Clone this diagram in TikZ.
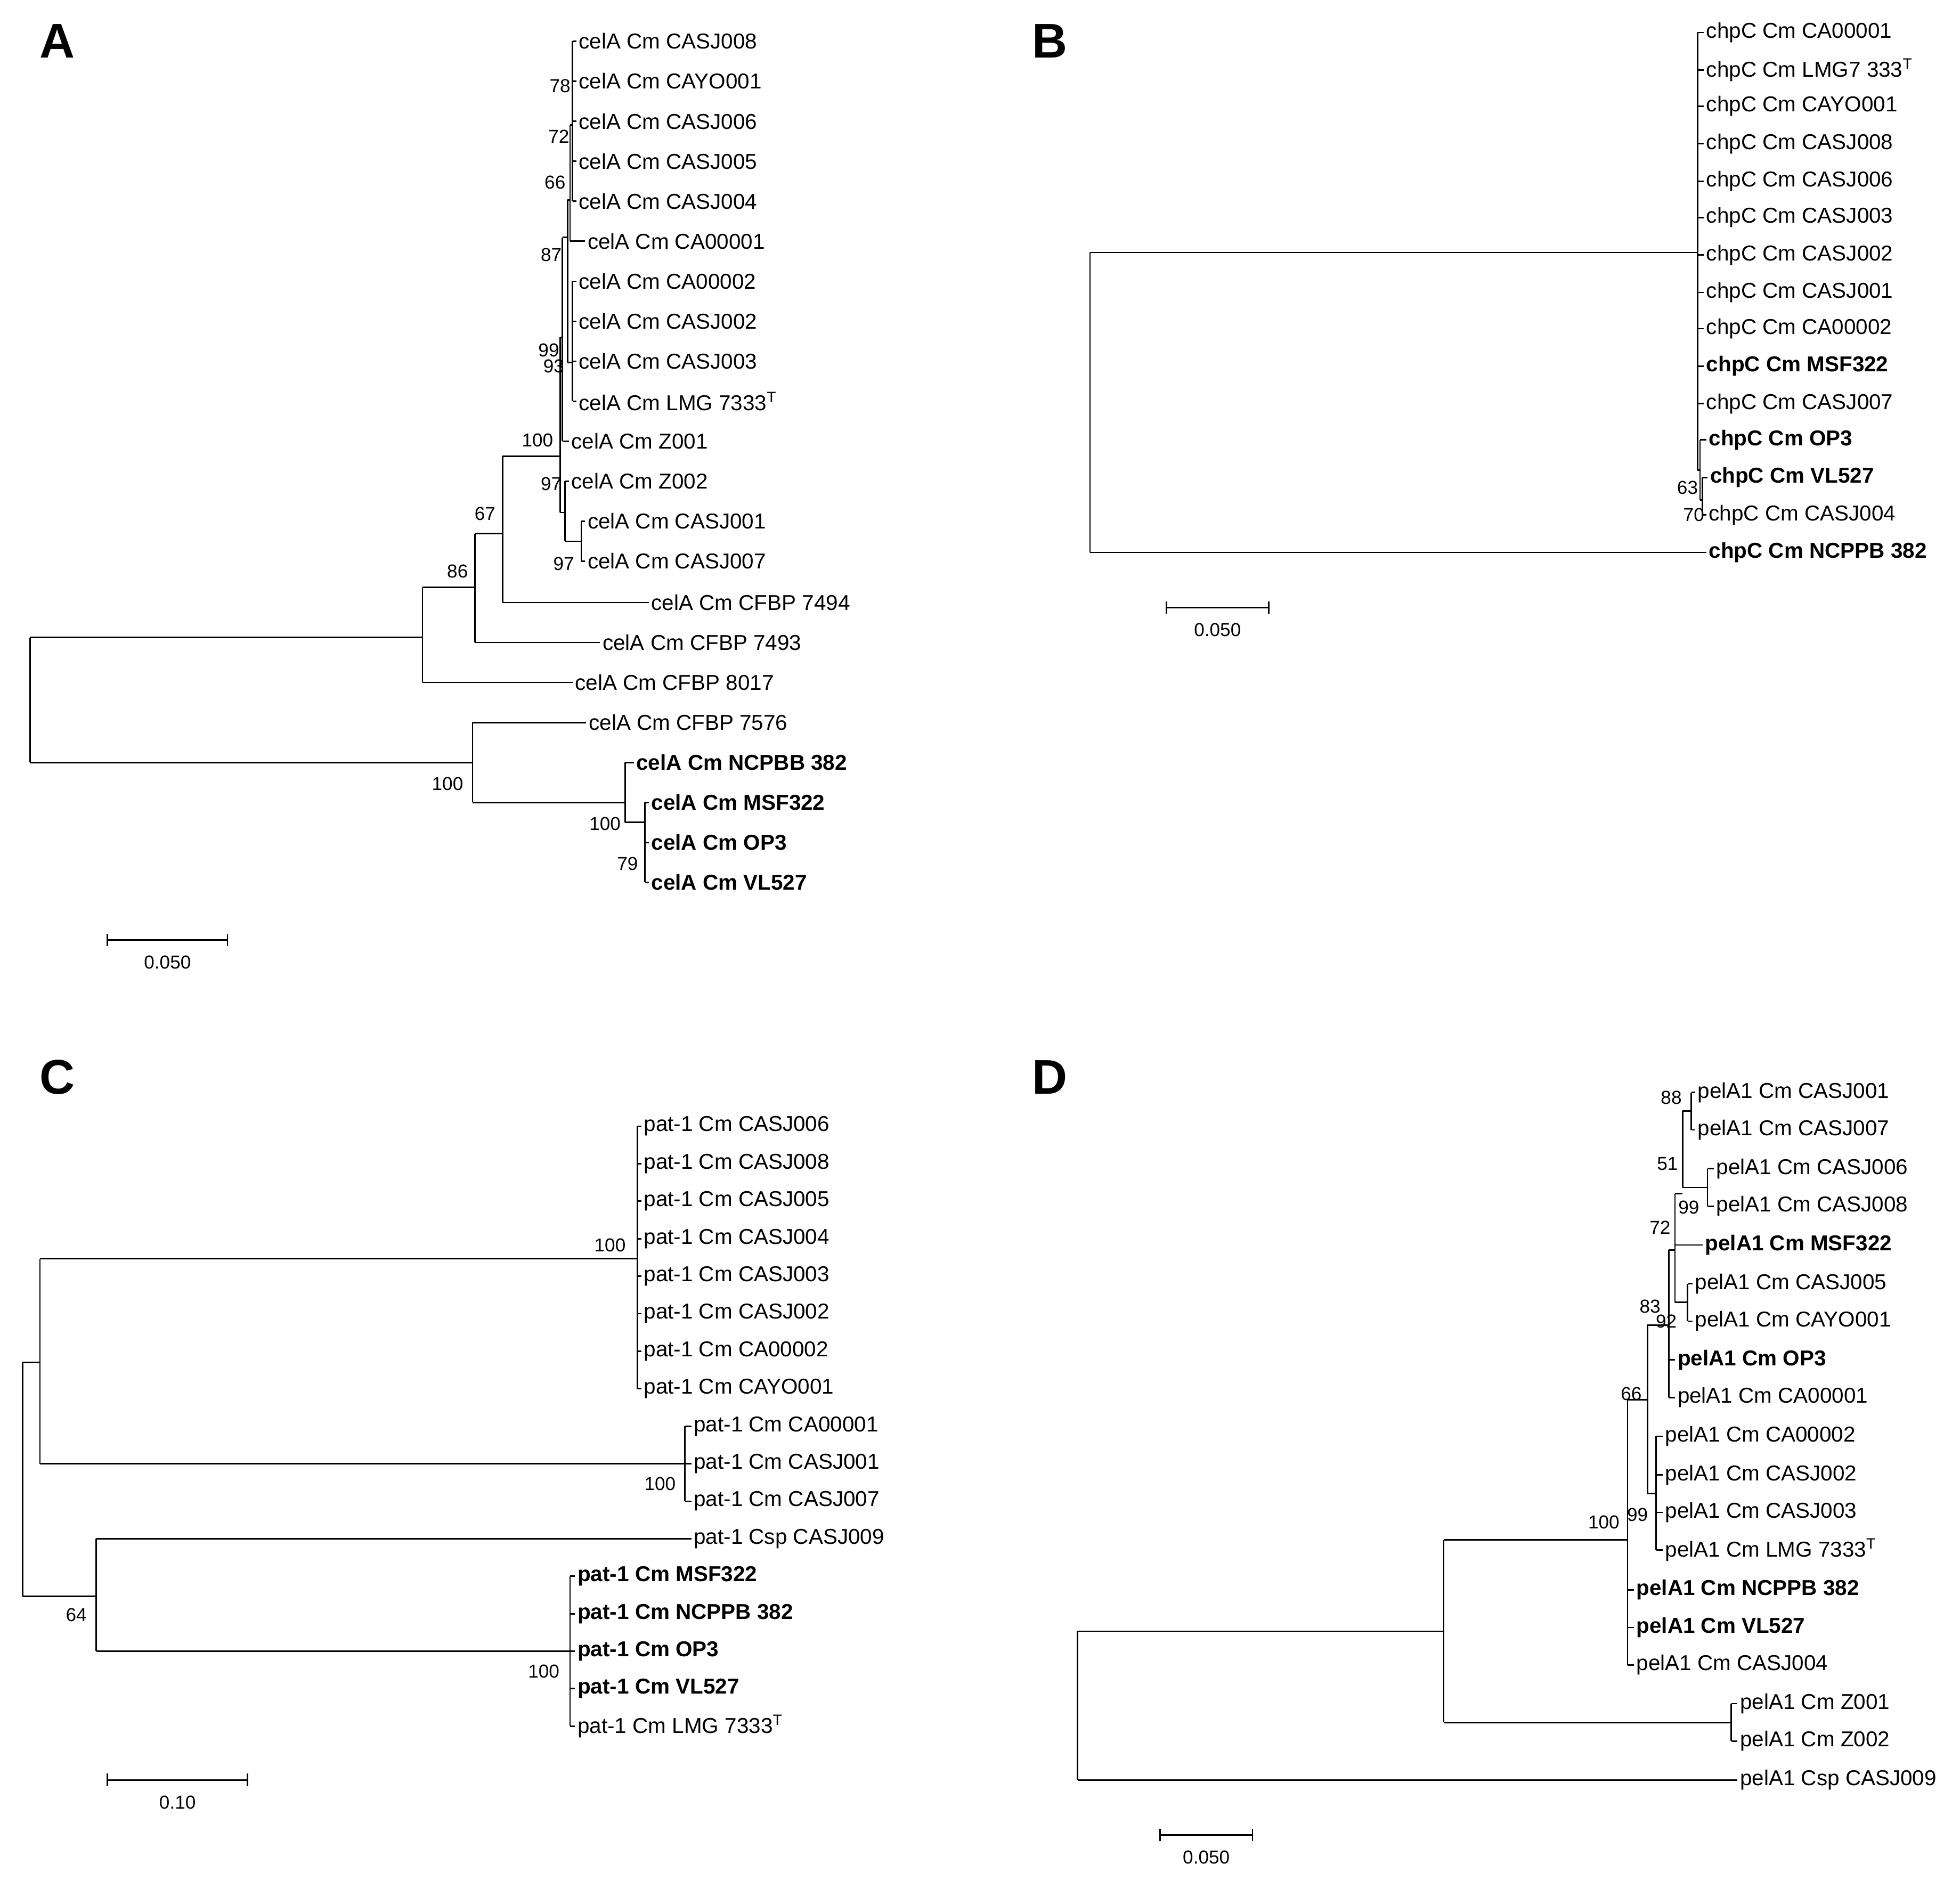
\documentclass[tikz,border=0pt]{standalone}
\usepackage{fontspec}
\setmainfont{Liberation Sans}
\tikzset{
  leaf/.style={anchor=west,inner sep=1pt,font=\fontsize{11.5}{13}\selectfont},
  bleaf/.style={leaf,font=\fontsize{11.5}{13}\selectfont\bfseries},
  bs/.style={inner sep=0pt,font=\fontsize{10}{12}\selectfont},
  panel/.style={font=\fontsize{26}{30}\selectfont\bfseries},
  tree/.style={line width=0.8pt}
}
\newcommand{\sbar}[4]{\draw[tree] (#1,#3) -- (#2,#3) (#1,#3-5) -- (#1,#3+5) (#2,#3-5) -- (#2,#3+5);
  \node[bs] at ({(#1+#2)/2},#3+18) {#4};}
\begin{document}
\begin{tikzpicture}[x=0.02346cm,y=-0.02346cm]
\useasboundingbox (0,0) rectangle (1568,1504);
% panel letters
\node[panel] (pA) at (46,33) {A};
\node[panel] (pB) at (840,33) {B};
\node[panel] (pC) at (46,862) {C};
\node[panel] (pD) at (840,862) {D};

% ---------- A
\draw[tree] (24,510) -- (24,610) (24,510) -- (338,510) (24,610) -- (378,610);
\draw[tree] (338,470) -- (338,546) (338,546) -- (458,546) node[leaf] {celA Cm CFBP 8017};
\draw[tree] (338,470) -- (380,470) (380,427) -- (380,514) (380,514) -- (480,514) node[leaf] {celA Cm CFBP 7493};
\draw[tree] (380,427) -- (402,427) (402,365) -- (402,482) (402,482) -- (519,482) node[leaf] {celA Cm CFBP 7494};
\draw[tree] (402,365) -- (448,365) (448,270) -- (448,410);
\draw[tree] (448,410) -- (452,410) (452,385) -- (452,433) (452,385) -- (455,385) node[leaf] {celA Cm Z002};
\draw[tree] (452,433) -- (465,433) (465,417) -- (465,449);
\foreach \y/\t in {417/celA Cm CASJ001,449/celA Cm CASJ007} \draw[tree] (465,\y) -- (468,\y) node[leaf] {\t};
\draw[tree] (448,270) -- (450,270) (450,190) -- (450,353) (450,353) -- (455,353) node[leaf] {celA Cm Z001};
\draw[tree] (450,190) -- (454,190) (454,160) -- (454,290) (454,290) -- (458,290) (458,225) -- (458,321);
\foreach \y/\t in {225/celA Cm CA00002,257/celA Cm CASJ002,289/celA Cm CASJ003,321/{celA Cm LMG 7333\textsuperscript{T}}} \draw[tree] (458,\y) -- (461,\y) node[leaf] {\t};
\draw[tree] (454,160) -- (456,160) (456,100) -- (456,193) (456,193) -- (468,193) node[leaf] {celA Cm CA00001};
\draw[tree] (456,100) -- (458,100) (458,33) -- (458,161);
\foreach \y/\t in {33/celA Cm CASJ008,65/celA Cm CAYO001,97/celA Cm CASJ006,129/celA Cm CASJ005,161/celA Cm CASJ004} \draw[tree] (458,\y) -- (461,\y) node[leaf] {\t};
\draw[tree] (378,578) -- (378,642) (378,578) -- (469,578) node[leaf] {celA Cm CFBP 7576};
\draw[tree] (378,642) -- (500,642) (500,610) -- (500,658) (500,610) -- (507,610) node[bleaf] {celA Cm NCPBB 382};
\draw[tree] (500,658) -- (516,658) (516,642) -- (516,706);
\foreach \y/\t in {642/celA Cm MSF322,674/celA Cm OP3,706/celA Cm VL527} \draw[tree] (516,\y) -- (519,\y) node[bleaf] {\t};
\foreach \x/\y/\t in {448/69/78,447/109/72,444/146/66,441/204/87,439/280/99,443/293/93,430/352/100,441/387/97,388/411/67,366/457/86,451/451/97,358/627/100,484/659/100,502/691/79}
  \node[bs] at (\x,\y) {\t};
\sbar{86}{182}{752}{0.050}

% ---------- B
\draw[tree] (872,202) -- (872,442) (872,202) -- (1358,202) (1358,26) -- (1358,376);
\draw[tree] (872,442) -- (1365,442) node[bleaf] {chpC Cm NCPPB 382};
\foreach \y/\t in {26/chpC Cm CA00001,56/{chpC Cm LMG7 333\textsuperscript{T}},85/chpC Cm CAYO001,115/chpC Cm CASJ008,145/chpC Cm CASJ006,174/chpC Cm CASJ003,204/chpC Cm CASJ002,234/chpC Cm CASJ001,263/chpC Cm CA00002,323/chpC Cm CASJ007}
  \draw[tree] (1358,\y) -- (1363,\y) node[leaf] {\t};
\draw[tree] (1358,293) -- (1363,293) node[bleaf] {chpC Cm MSF322};
\draw[tree] (1358,376) -- (1360,376) (1360,352) -- (1360,400) (1360,352) -- (1365,352) node[bleaf] {chpC Cm OP3};
\draw[tree] (1360,400) -- (1362,400) (1362,382) -- (1362,412) (1362,382) -- (1366,382) node[bleaf] {chpC Cm VL527};
\draw[tree] (1362,412) -- (1365,412) node[leaf] {chpC Cm CASJ004};
\node[bs] at (1350,390) {63};
\node[bs] at (1355,412) {70};
\sbar{933}{1015}{486}{0.050}

% ---------- C
\draw[tree] (18,1090) -- (18,1277) (18,1090) -- (32,1090) (32,1007) -- (32,1171);
\draw[tree] (32,1007) -- (510,1007) (510,901) -- (510,1111);
\foreach \y/\t in {901/CASJ006,931/CASJ008,961/CASJ005,991/CASJ004,1021/CASJ003,1051/CASJ002,1081/CA00002,1111/CAYO001}
  \draw[tree] (510,\y) -- (513,\y) node[leaf] {pat-1 Cm \t};
\draw[tree] (32,1171) -- (548,1171) (548,1141) -- (548,1201);
\foreach \y/\t in {1141/CA00001,1171/CASJ001,1201/CASJ007}
  \draw[tree] (548,\y) -- (553,\y) node[leaf] {pat-1 Cm \t};
\draw[tree] (18,1277) -- (77,1277) (77,1231) -- (77,1321) (77,1231) -- (553,1231) node[leaf] {pat-1 Csp CASJ009};
\draw[tree] (77,1321) -- (456,1321) (456,1261) -- (456,1381);
\foreach \y/\t in {1261/MSF322,1291/NCPPB 382,1321/OP3,1351/VL527}
  \draw[tree] (456,\y) -- (460,\y) node[bleaf] {pat-1 Cm \t};
\draw[tree] (456,1381) -- (460,1381) node[leaf] {pat-1 Cm LMG 7333\textsuperscript{T}};
\foreach \x/\y/\t in {488/996/100,528/1187/100,61/1292/64,435/1337/100} \node[bs] at (\x,\y) {\t};
\sbar{86}{198}{1424}{0.10}

% ---------- D
\draw[tree] (862,1305) -- (862,1424) (862,1424) -- (1390,1424) node[leaf] {pelA1 Csp CASJ009};
\draw[tree] (862,1305) -- (1155,1305) (1155,1232) -- (1155,1378);
\draw[tree] (1155,1378) -- (1385,1378) (1385,1363) -- (1385,1393);
\foreach \y/\t in {1363/Z001,1393/Z002} \draw[tree] (1385,\y) -- (1390,\y) node[leaf] {pelA1 Cm \t};
\draw[tree] (1155,1232) -- (1302,1232) (1302,1120) -- (1302,1332);
\foreach \y/\t in {1272/NCPPB 382,1302/VL527} \draw[tree] (1302,\y) -- (1307,\y) node[bleaf] {pelA1 Cm \t};
\draw[tree] (1302,1332) -- (1307,1332) node[leaf] {pelA1 Cm CASJ004};
\draw[tree] (1302,1120) -- (1318,1120) (1318,1060) -- (1318,1195);
\draw[tree] (1318,1195) -- (1325,1195) (1325,1149) -- (1325,1240);
\foreach \y/\t in {1149/CA00002,1180/CASJ002,1210/CASJ003,1240/{LMG 7333\textsuperscript{T}}} \draw[tree] (1325,\y) -- (1330,\y) node[leaf] {pelA1 Cm \t};
\draw[tree] (1318,1060) -- (1335,1060) (1335,1000) -- (1335,1118);
\draw[tree] (1335,1088) -- (1340,1088) node[bleaf] {pelA1 Cm OP3};
\draw[tree] (1335,1118) -- (1340,1118) node[leaf] {pelA1 Cm CA00001};
\draw[tree] (1335,1000) -- (1340,1000) (1340,955) -- (1340,1042);
\draw[tree] (1340,996) -- (1362,996) node[bleaf] {pelA1 Cm MSF322};
\draw[tree] (1340,1042) -- (1350,1042) (1350,1027) -- (1350,1057);
\foreach \y/\t in {1027/CASJ005,1057/CAYO001} \draw[tree] (1350,\y) -- (1354,\y) node[leaf] {pelA1 Cm \t};
\draw[tree] (1340,955) -- (1346,955) (1346,889) -- (1346,950);
\draw[tree] (1346,889) -- (1353,889) (1353,874) -- (1353,904);
\foreach \y/\t in {874/CASJ001,904/CASJ007} \draw[tree] (1353,\y) -- (1356,\y) node[leaf] {pelA1 Cm \t};
\draw[tree] (1346,950) -- (1366,950) (1366,935) -- (1366,965);
\foreach \y/\t in {935/CASJ006,965/CASJ008} \draw[tree] (1366,\y) -- (1371,\y) node[leaf] {pelA1 Cm \t};
\foreach \x/\y/\t in {1283/1218/100,1310/1212/99,1305/1115/66,1320/1045/83,1333/1057/92,1328/982/72,1334/931/51,1351/966/99,1337/878/88}
  \node[bs] at (\x,\y) {\t};
\sbar{928}{1002}{1468}{0.050}
\end{tikzpicture}
\end{document}
